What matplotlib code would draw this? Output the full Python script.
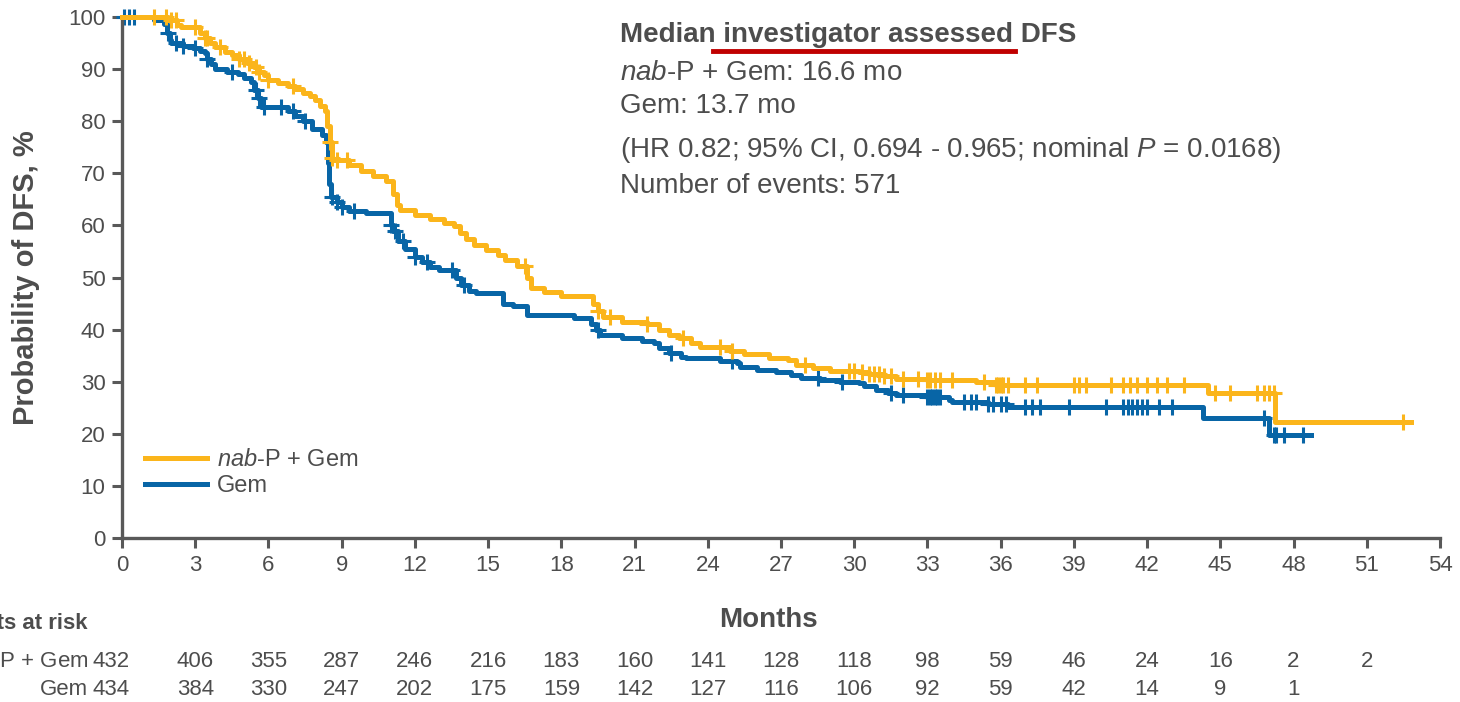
import matplotlib
matplotlib.use("Agg")
import matplotlib.pyplot as plt
import matplotlib.transforms as mtransforms
from matplotlib.lines import Line2D
import numpy as np

plt.rcParams["font.family"] = ["Liberation Sans", "DejaVu Sans"]
plt.rcParams["mathtext.fontset"] = "custom"
plt.rcParams["mathtext.rm"] = "Liberation Sans"
plt.rcParams["mathtext.it"] = "Liberation Sans:italic"
plt.rcParams["mathtext.bf"] = "Liberation Sans:bold"

# Kaplan-Meier steps (months, % disease free)
nab_t = [0, 1.9, 2.25, 2.4, 3.2, 3.4, 3.6, 3.8, 4.2, 4.5, 4.8, 5.1, 5.4, 5.6, 5.8,
         6.0, 6.4, 6.8, 7.1, 7.4, 7.7, 7.9, 8.1, 8.3, 8.4, 8.5, 8.6, 8.65, 9.3,
         9.8, 10.3, 10.8, 11.1, 11.25, 11.4, 12.0, 12.6, 13.2, 13.6, 13.85, 14.1,
         14.4, 14.9, 15.4, 15.7, 16.2, 16.6, 16.75, 17.3, 18.0, 19.3, 19.5, 19.7,
         20.5, 21.5, 22.0, 22.4, 22.8, 23.3, 23.7, 24.9, 25.5, 26.5, 27.3, 27.6,
         28.3, 29.0, 30.2, 30.6, 31.2, 31.7, 33.0, 35.0, 35.8, 44.5, 47.25, 52.8]
nab_s = [100, 99.5, 98.5, 98, 97, 96, 95, 94.2, 93.3, 92.7, 92, 91.2, 90.4, 89.5, 88.8,
         88, 87.3, 86.7, 86.2, 85.5, 84.8, 84, 83, 82, 79, 76, 73, 72.5, 71.5,
         70.5, 69.5, 68.5, 66, 64, 63, 62, 61.3, 60.5, 59.8, 58.5, 57.3,
         56.3, 55.3, 54.3, 53.3, 52.3, 50, 48, 47.3, 46.5, 45, 43.5, 42.4,
         41.5, 41, 40, 39, 38.3, 37.5, 36.7, 35.8, 35.3, 34.6, 34.2, 33.2,
         32.6, 32, 31.8, 31.4, 31, 30.6, 30.3, 30, 29.4, 27.8, 22.3, 22.3]
nab_cens = [1.3, 1.8, 2.0, 2.2, 3.0, 3.4, 3.5, 4.0, 4.8, 5.0, 5.2, 5.5, 5.6, 6.0, 7.0,
            8.5, 8.6, 8.8, 9.2, 16.5, 19.5, 20.0, 21.5, 23.0, 24.5, 25.0, 28.0, 29.8,
            30.0, 30.3, 30.6, 30.8, 31.0, 31.2, 31.5, 32.0, 32.6, 33.0, 33.1, 33.3,
            33.5, 34.0, 35.3, 35.8, 35.9, 36.0, 36.1, 36.3, 37.0, 37.5, 39.0, 39.2,
            39.5, 40.5, 41.0, 41.3, 41.6, 42.0, 42.4, 42.8, 43.5, 44.8, 45.4, 46.5,
            46.8, 47.0, 47.2, 52.5]

gem_t = [0, 1.3, 1.7, 1.85, 1.95, 2.0, 2.5, 2.9, 3.2, 3.4, 3.5, 3.65, 3.8, 4.3, 4.75,
         5.0, 5.3, 5.4, 5.55, 5.7, 6.8, 7.1, 7.4, 7.8, 8.2, 8.35, 8.42, 8.47, 8.55,
         8.8, 9.0, 9.3, 10.0, 11.0, 11.1, 11.3, 11.6, 12.0, 12.3, 12.6, 13.0, 13.7,
         13.9, 14.2, 14.5, 15.6, 16.0, 16.6, 18.5, 19.2, 19.4, 19.6, 20.5, 21.3,
         21.8, 22.0, 22.4, 22.9, 23.1, 24.5, 25.2, 25.3, 26.0, 26.8, 27.4, 27.8,
         28.6, 29.4, 30.2, 30.4, 30.9, 31.4, 31.7, 33.0, 33.9, 34.0, 35.5, 36.3,
         44.3, 47.0, 48.7]
gem_s = [100, 99.5, 98.6, 97, 95.5, 95, 94.5, 94, 93.5, 93, 92, 91, 90, 89.5, 89,
         88.3, 87.5, 86, 84.5, 82.7, 82, 81, 80, 78.5, 77.3, 76, 72, 68, 65.5,
         64.5, 63.5, 62.8, 62.4, 60, 59, 57, 55.5, 54, 53, 52, 51.5, 50,
         48.5, 47.5, 47, 45, 44.5, 42.8, 42.2, 41, 40, 39, 38.3, 37.8,
         37.4, 36.5, 35.6, 34.8, 34.5, 34, 33.5, 32.8, 32.3, 31.8, 31.3, 30.8,
         30.3, 30, 29.7, 29.2, 28.5, 27.8, 27.4, 27, 26.4, 26.1, 25.7, 25.1,
         23, 19.8, 19.8]
gem_cens = [0.1, 0.3, 0.5, 1.9, 2.2, 2.5, 3.0, 3.5, 4.5, 5.5, 5.6, 5.8, 6.5, 7.0, 7.5,
            8.6, 8.8, 9.0, 9.5, 11.0, 11.2, 11.5, 12.0, 12.5, 13.5, 14.0, 19.5, 22.5,
            25.0, 28.5, 29.5, 31.5, 32.0, 33.0, 33.1, 33.2, 33.3, 33.4, 33.5, 34.5,
            34.8, 35.0, 35.5, 35.7, 36.0, 36.2, 37.0, 37.3, 37.6, 38.8, 40.3, 41.0,
            41.2, 41.4, 41.6, 41.8, 42.0, 42.5, 43.0, 46.8, 47.2, 47.3, 47.6, 48.4]

risk_months = [0, 3, 6, 9, 12, 15, 18, 21, 24, 27, 30, 33, 36, 39, 42, 45, 48, 51]
nab_risk = [432, 406, 355, 287, 246, 216, 183, 160, 141, 128, 118, 98, 59, 46, 24, 16, 2, 2]
gem_risk = [434, 384, 330, 247, 202, 175, 159, 142, 127, 116, 106, 92, 59, 42, 14, 9, 1]

ORANGE = "#FBB51B"
BLUE = "#0865A6"
GREY = "#4D4D4D"
AXIS = "#595959"


def surv_at(t, s, x):
    idx = np.searchsorted(np.asarray(t), np.asarray(x), side="right") - 1
    return np.asarray(s)[idx]


fig = plt.figure(figsize=(14.6, 7.02), dpi=100)
ax = fig.add_axes([0.0836, 0.2336, 0.9027, 0.7422])

ax.plot(nab_t, nab_s, drawstyle="steps-post", color=ORANGE, lw=3.6,
        label="$\\it{nab}$-P + Gem", clip_on=False, zorder=3)
ax.plot(gem_t, gem_s, drawstyle="steps-post", color=BLUE, lw=3.6,
        label="Gem", clip_on=False, zorder=2)
ax.plot(nab_cens, surv_at(nab_t, nab_s, nab_cens), ls="none", marker="+",
        ms=11, mew=2.2, color=ORANGE, clip_on=False, zorder=3)
ax.plot(gem_cens, surv_at(gem_t, gem_s, gem_cens), ls="none", marker="+",
        ms=11, mew=2.2, color=BLUE, clip_on=False, zorder=2)

ax.set_xlim(0, 54)
ax.set_ylim(0, 100)
ax.set_xticks(np.arange(0, 55, 3))
ax.set_yticks(np.arange(0, 101, 10))
for side in ["top", "right"]:
    ax.spines[side].set_visible(False)
for side in ["left", "bottom"]:
    ax.spines[side].set_color(AXIS)
    ax.spines[side].set_linewidth(2.4)
ax.tick_params(colors=AXIS, labelcolor=GREY, labelsize=16, width=2.2, length=7, pad=5)

ax.set_ylabel("Probability of DFS, %", fontsize=21, fontweight="bold", color=GREY)
ax.yaxis.set_label_coords(-0.062, 0.5)

leg = ax.legend(loc="upper left", bbox_to_anchor=(0.0175, 0.17), frameon=False,
                fontsize=17, handlelength=2.6, handletextpad=0.45, labelspacing=0.15,
                borderpad=0, borderaxespad=0)
for txt in leg.get_texts():
    txt.set_color(GREY)

# summary box
fig.text(0.4247, 0.950, "Median investigator assessed DFS", fontsize=20,
         fontweight="bold", color=GREY, va="center")
fig.add_artist(Line2D([0.4884, 0.6952], [0.9274, 0.9274], transform=fig.transFigure,
                      color="#C00000", lw=3.5))
fig.text(0.4247, 0.896, "$\\it{nab}$-P + Gem: 16.6 mo", fontsize=20, color=GREY, va="center")
fig.text(0.4247, 0.849, "Gem: 13.7 mo", fontsize=20, color=GREY, va="center")
fig.text(0.4247, 0.786, "(HR 0.82; 95% CI, 0.694 - 0.965; nominal $\\it{P}$ = 0.0168)",
         fontsize=20, color=GREY, va="center")
fig.text(0.4247, 0.735, "Number of events: 571", fontsize=20, color=GREY, va="center")

# months label and numbers at risk
fig.text(0.526, 0.117, "Months", fontsize=20, fontweight="bold", color=GREY,
         ha="center", va="center")
fig.text(0.0596, 0.1125, "Patients at risk", fontsize=16, fontweight="bold", color=GREY,
         ha="right", va="center")
fig.text(0.0603, 0.0584, "$\\it{nab}$-P + Gem", fontsize=16, color=GREY, ha="right", va="center")
fig.text(0.0603, 0.0185, "Gem", fontsize=16, color=GREY, ha="right", va="center")

# first column sits a little left of the zero tick
risk_x = [m if m > 0 else -0.45 for m in risk_months]
trans = mtransforms.blended_transform_factory(ax.transData, fig.transFigure)
for m, n in zip(risk_x, nab_risk):
    ax.text(m, 0.0584, str(n), transform=trans, fontsize=16, color=GREY,
            ha="center", va="center", clip_on=False)
for m, n in zip(risk_x, gem_risk):
    ax.text(m, 0.0185, str(n), transform=trans, fontsize=16, color=GREY,
            ha="center", va="center", clip_on=False)

fig.savefig("out.png", dpi=100)
